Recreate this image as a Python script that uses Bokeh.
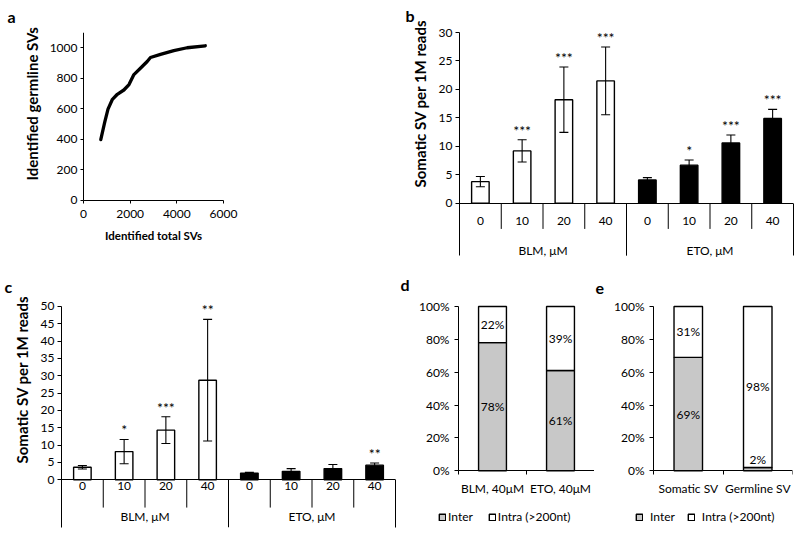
from bokeh.plotting import figure
from bokeh.layouts import column, row
from bokeh.models import (Range1d, FactorRange, FixedTicker, CategoricalAxis, LinearAxis,
                          PrintfTickFormatter, Legend, LegendItem, ColumnDataSource, Title)
from bokeh.embed import file_html
from bokeh.resources import INLINE

FONT = "Lato"
TICK_FS = "12px"
XTITLE_FS = "11.5px"
YTITLE_FS = "15px"
GRAY = "#c8c8c8"

# ---------------- data ----------------
# panel a
a_total_svs = [740, 910, 1050, 1240, 1450, 1730, 1950, 2160, 2450, 2730, 2870, 3300, 3870, 4440, 5220]
a_germline_svs = [398, 512, 598, 662, 695, 723, 759, 824, 867, 910, 936, 957, 981, 1000, 1013]
a_xticks = [0, 2000, 4000, 6000]
a_yticks = [0, 200, 400, 600, 800, 1000]
a_ymax = 1100
a_xtitle = "Identified total SVs"
a_ytitle = "Identified germline SVs"

# panels b, c
groups = ["BLM, μM", "ETO, μM"]
doses = ["0", "10", "20", "40"]
group_fills = ["white", "black"]
bc_ytitle = "Somatic SV per 1M reads"

b_blm = [3.8, 9.2, 18.2, 21.5]
b_blm_err = [0.9, 1.95, 5.75, 5.95]
b_eto = [4.1, 6.7, 10.6, 14.9]
b_eto_err = [0.4, 0.9, 1.4, 1.6]
b_blm_sig = ["", "***", "***", "***"]
b_eto_sig = ["", "*", "***", "***"]
b_yticks = [0, 5, 10, 15, 20, 25, 30]

c_blm = [3.6, 8.1, 14.3, 28.7]
c_blm_err = [0.5, 3.5, 3.85, 17.55]
c_eto = [1.9, 2.4, 3.2, 4.2]
c_eto_err = [0.2, 0.8, 1.2, 0.6]
c_blm_sig = ["", "*", "***", "**"]
c_eto_sig = ["", "", "", "**"]
c_yticks = [0, 5, 10, 15, 20, 25, 30, 35, 40, 45, 50]

# panels d, e
pct_ticks = [0, 20, 40, 60, 80, 100]
series_names = ["Inter", "Intra (>200nt)"]
d_cats = ["BLM, 40μM", "ETO, 40μM"]
d_inter = [78, 61]
d_intra = [22, 39]
e_cats = ["Somatic SV", "Germline SV"]
e_inter = [69, 2]
e_intra = [31, 98]


# ---------------- helpers ----------------
def base_fig(w, h, bl, br, bt, bb, xr, yr, letter, loff, lstandoff):
    p = figure(width=w, height=h, x_range=xr, y_range=yr, output_backend="svg",
               toolbar_location=None, x_axis_location=None, y_axis_location=None,
               min_border_left=bl, min_border_right=br, min_border_top=bt, min_border_bottom=bb)
    p.outline_line_color = None
    p.grid.visible = False
    p.title.text = letter
    p.title.text_font = FONT
    p.title.text_font_size = "16px"
    p.title.text_font_style = "bold"
    p.title.text_color = "black"
    p.title.align = "left"
    p.title.vertical_align = "top"
    p.title.offset = loff
    p.title.standoff = lstandoff
    return p


def ytitle(p, text, offset, standoff):
    t = Title(text=text, align="left", vertical_align="bottom", offset=offset, standoff=standoff,
              text_font=FONT, text_font_size=YTITLE_FS, text_font_style="bold", text_color="black")
    p.add_layout(t, "left")


def style(ax, tick_out=4, standoff=3):
    ax.axis_line_color = "black"
    ax.axis_line_width = 1
    ax.major_tick_line_color = "black"
    ax.major_tick_in = 0
    ax.major_tick_out = tick_out
    ax.minor_tick_line_color = None
    ax.minor_tick_in = 0
    ax.minor_tick_out = 0
    ax.major_label_text_font = FONT
    ax.major_label_text_font_size = TICK_FS
    ax.major_label_text_color = "black"
    ax.major_label_standoff = standoff
    ax.axis_label_text_font = FONT
    ax.axis_label_text_font_size = XTITLE_FS
    ax.axis_label_text_font_style = "bold"
    ax.axis_label_text_color = "black"


def bar_panel(w, h, bl, br, bt, bb, ytop, yfloor, outer_len, inner_len, yticks,
              vals, errs, sigs, letter, loff, lstandoff, dose_standoff, group_standoff,
              yt_offset, yt_standoff):
    factors = [(g, d) for g in groups for d in doses]
    xr = FactorRange(factors=factors, factor_padding=0, group_padding=0, range_padding=0)
    p = base_fig(w, h, bl, br, bt, bb, xr, Range1d(yfloor, ytop), letter, loff, lstandoff)
    fills = [c for c in group_fills for _ in doses]
    src = ColumnDataSource(dict(
        x=factors, top=vals,
        lo=[v - e for v, e in zip(vals, errs)],
        hi=[v + e for v, e in zip(vals, errs)],
        fill=fills, sig=sigs))
    p.vbar(x="x", top="top", bottom=0, width=0.42, fill_color="fill", line_color="black",
           line_width=1.4, source=src)
    p.segment(x0="x", y0="lo", x1="x", y1="hi", line_color="black", line_width=1.1, source=src)
    p.scatter(x="x", y="hi", marker="dash", size=9, line_color="black", line_width=1.1, source=src)
    p.scatter(x="x", y="lo", marker="dash", size=9, line_color="black", line_width=1.1, source=src)
    p.text(x="x", y="hi", text="sig", text_align="center", text_baseline="bottom", y_offset=-1,
           text_font={"value": FONT}, text_font_size="14px", text_color="black", source=src)
    # category separators (Excel style multi-level category axis)
    inner_x = [(g, d, -0.5) for g in groups for d in doses[1:]]
    outer_x = [(g, doses[0], -0.5) for g in groups[1:]]
    p.segment(x0=inner_x, y0=[0] * len(inner_x), x1=inner_x, y1=[-inner_len] * len(inner_x),
              line_color="black", line_width=1)
    p.segment(x0=outer_x, y0=[0] * len(outer_x), x1=outer_x, y1=[-outer_len] * len(outer_x),
              line_color="black", line_width=1)
    # category axes drawn at y = 0
    xd = CategoricalAxis(fixed_location=0)
    style(xd, 0, dose_standoff)
    xd.major_tick_line_color = None
    xd.separator_line_color = None
    xd.group_text_alpha = 0
    p.add_layout(xd, "below")
    p.extra_x_ranges = {"grp": FactorRange(factors=groups, range_padding=0, factor_padding=0)}
    xg = CategoricalAxis(x_range_name="grp", fixed_location=0)
    style(xg, 0, group_standoff)
    xg.axis_line_color = None
    xg.major_tick_line_color = None
    p.add_layout(xg, "below")
    # value axis (its line continues down as the outer left separator)
    ya = LinearAxis(ticker=FixedTicker(ticks=yticks), bounds=(-outer_len, yticks[-1]))
    style(ya, 4, 3)
    p.add_layout(ya, "left")
    ytitle(p, bc_ytitle, yt_offset, yt_standoff)
    yr = LinearAxis(ticker=FixedTicker(ticks=[]), bounds=(-outer_len, 0))
    style(yr, 0, 0)
    p.add_layout(yr, "right")
    return p


def stack_panel(w, h, bl, br, bt, bb, lpad, ytop, yfloor, cats, inter, intra, letter, loff,
                lstandoff, leg_loc, xlabel_standoff, leg_spacing, leg_standoff):
    n = len(cats)
    pos = [i + 0.5 for i in range(n)]          # category centres
    edges = list(range(n + 1))                 # category boundaries
    p = base_fig(w, h, bl, br, bt, bb, Range1d(-lpad, n), Range1d(yfloor, ytop),
                 letter, loff, lstandoff)
    src = ColumnDataSource(dict(x=pos, inter=inter, intra=intra))
    rs = p.vbar_stack(["inter", "intra"], x="x", width=0.41, fill_color=[GRAY, "white"],
                      line_color="black", line_width=1.4, source=src)
    lab_x = pos + pos
    lab_y = [v / 2 if v >= 10 else v + 5 for v in inter] + [a + b / 2 for a, b in zip(inter, intra)]
    lab_t = [f"{v}%" for v in inter] + [f"{v}%" for v in intra]
    p.text(x=lab_x, y=lab_y, text=lab_t, text_align="center", text_baseline="middle",
           text_font={"value": FONT}, text_font_size="12px", text_color="black")
    # category labels
    xc = LinearAxis(ticker=FixedTicker(ticks=pos), fixed_location=0,
                    major_label_overrides={x: c for x, c in zip(pos, cats)})
    style(xc, 0, xlabel_standoff)
    xc.axis_line_color = None
    xc.major_tick_line_color = None
    p.add_layout(xc, "below")
    # axis line with tick marks between categories (Excel style)
    xt = LinearAxis(ticker=FixedTicker(ticks=edges), fixed_location=0, bounds=(0, n))
    style(xt, 4, 0)
    xt.major_label_text_alpha = 0
    p.add_layout(xt, "below")
    ya = LinearAxis(ticker=FixedTicker(ticks=pct_ticks), formatter=PrintfTickFormatter(format="%d%%"),
                    bounds=(0, pct_ticks[-1]), fixed_location=0)
    style(ya, 4, 5)
    p.add_layout(ya, "left")
    leg = Legend(items=[LegendItem(label=series_names[0], renderers=[rs[0]]),
                        LegendItem(label=series_names[1], renderers=[rs[1]])],
                 orientation="horizontal", location=leg_loc)
    leg.border_line_color = None
    leg.background_fill_alpha = 0
    leg.glyph_width = 8
    leg.glyph_height = 8
    leg.label_height = 14
    leg.label_width = 10
    leg.label_text_font = FONT
    leg.label_text_font_size = "12px"
    leg.label_text_color = "black"
    leg.label_standoff = leg_standoff
    leg.spacing = leg_spacing
    leg.padding = 0
    leg.margin = 0
    p.add_layout(leg)
    return p


# ---------------- panel a ----------------
pa = base_fig(380, 270, 40, 114, 29, 8, Range1d(-1843, 7843), Range1d(-408, a_ymax), "a", -33, 10)
pa.line(a_total_svs, a_germline_svs, line_width=3.3, line_color="black", line_cap="round",
        line_join="round")
xa = LinearAxis(ticker=FixedTicker(ticks=a_xticks), axis_label=a_xtitle, fixed_location=0,
                bounds=(a_xticks[0], a_xticks[-1]))
style(xa, 3, 7)
xa.axis_label_standoff = 7
pa.add_layout(xa, "below")
ya = LinearAxis(ticker=FixedTicker(ticks=a_yticks), bounds=(0, a_ymax), fixed_location=0)
style(ya, 3, 3)
pa.add_layout(ya, "left")
ytitle(pa, a_ytitle, 82, 0)

# ---------------- panel b ----------------
pb = bar_panel(420, 270, 79, 7, 29, 8, 30, -10.4, 9.2, 4.5, b_yticks,
               b_blm + b_eto, b_blm_err + b_eto_err, b_blm_sig + b_eto_sig,
               "b", -54, 11, 14, 40, 75, 14)

# ---------------- panel c ----------------
pc = bar_panel(400, 269, 61, 5, 28, 12, 52.0, -13.8, 13.8, 8.05, c_yticks,
               c_blm + c_eto, c_blm_err + c_eto_err, c_blm_sig + c_eto_sig,
               "c", -57, 4, 2, 29, 64, 14)

# ---------------- panels d, e ----------------
pd_ = stack_panel(194, 269, 10, 0, 28, 12, 0.706, 104.24, -34.5, d_cats, d_inter, d_intra,
                  "d", -10, 8, (28, 3), 10, 15, 2)
pe = stack_panel(206, 269, 6, 8, 28, 12, 0.763, 104.24, -34.5, e_cats, e_inter, e_intra,
                 "e", -5, 8, (35, 3), 10, 12, 7)

layout = column(row(pa, pb), row(pc, pd_, pe))
open("out.html", "w").write(file_html(layout, INLINE))
